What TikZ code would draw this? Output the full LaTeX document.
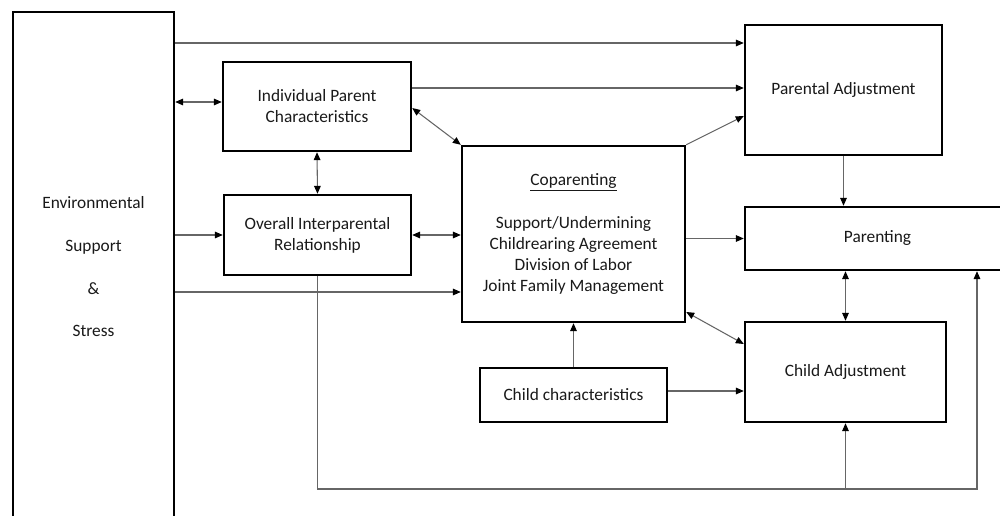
\documentclass[tikz,border=0pt]{standalone}
\usepackage{fontspec}
\setmainfont{Carlito}
\usetikzlibrary{arrows.meta}
\begin{document}
\begin{tikzpicture}[x=0.75pt,y=-0.75pt,
  box/.style={draw=black,line width=1.8pt,fill=white,align=center,inner sep=0pt,
    font=\fontsize{13}{15.75}\selectfont,text=black!90},
  conn/.style={draw=black!60,line width=0.8pt},
  arr/.style={conn,-{Triangle[length=6pt,width=5pt,black]}},
  barr/.style={conn,{Triangle[length=6pt,width=5pt,black]}-{Triangle[length=6pt,width=5pt,black]}}]
\useasboundingbox (0,0) rectangle (1000,516);
% boxes
\node[box,minimum width=120.75pt,minimum height=382.5pt,font=\fontsize{13}{32}\selectfont] (env) at (93.5,267) {Environmental\\Support\\\&\\Stress};
\node[box,minimum width=141pt,minimum height=66.75pt] (ipc) at (317,106.5) {Individual Parent\\Characteristics};
\node[box,minimum width=140.25pt,minimum height=60pt] (oir) at (317.5,235) {Overall Interparental\\Relationship};
\node[box,minimum width=167.25pt,minimum height=132pt] (cop) at (573.5,234) {\underline{Coparenting}\\[16.5pt]Support/Undermining\\Childrearing Agreement\\Division of Labor\\Joint Family Management};
\node[box,minimum width=147.75pt,minimum height=97.5pt] (pa) at (843.5,90) {Parental Adjustment};
\node[box,minimum width=198.75pt,minimum height=47.25pt] (par) at (877.5,238.5) {Parenting};
\node[box,minimum width=150.75pt,minimum height=75pt] (ca) at (845.5,372) {Child Adjustment};
\node[box,minimum width=140.25pt,minimum height=40.5pt] (cc) at (573.5,395) {Child characteristics};
% helper levels
\coordinate (r43) at (0,43);
\coordinate (r88) at (0,88);
\coordinate (r102) at (0,102);
\coordinate (r108) at (0,108);
\coordinate (r116) at (0,116);
\coordinate (r292) at (0,292);
\coordinate (r312) at (0,312);
\coordinate (r344) at (0,344);
\coordinate (r391) at (0,391);
\coordinate (loopy) at (0,489);
\coordinate (xr) at (977,0);
% connectors
\draw[arr] (env.east |- r43) -- (pa.west |- r43);
\draw[barr] (env.east |- r102) -- (ipc.west |- r102);
\draw[arr] (ipc.east |- r88) -- (pa.west |- r88);
\draw[barr] (ipc.east |- r108) -- (cop.north west);
\draw[barr] (ipc.south) -- (oir.north);
\draw[arr] (env.east |- oir.west) -- (oir.west);
\draw[barr] (oir.east) -- (cop.west |- oir.east);
\draw[arr] (env.east |- r292) -- (cop.west |- r292);
\draw[arr] (cop.north east) -- (pa.west |- r116);
\draw[arr] (pa.south) -- (pa.south |- par.north);
\draw[arr] (cop.east |- par.west) -- (par.west);
\draw[barr] (ca.north |- par.south) -- (ca.north);
\draw[barr] (cop.east |- r312) -- (ca.west |- r344);
\draw[arr] (cc.north) -- (cop.south);
\draw[arr] (cc.east |- r391) -- (ca.west |- r391);
\draw[arr] (oir.south) -- (oir.south |- loopy) -- (xr |- loopy) -- (xr |- par.south);
\draw[arr] (ca.south |- loopy) -- (ca.south);
\end{tikzpicture}
\end{document}
